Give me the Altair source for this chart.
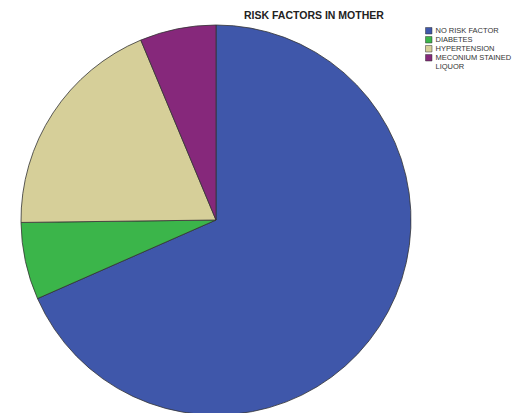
import altair as alt
import pandas as pd

categories = ["NO RISK FACTOR", "DIABETES", "HYPERTENSION", "MECONIUM STAINED LIQUOR"]
values = [68.4, 6.4, 18.9, 6.3]
colors = ["#3f57aa", "#3bb54a", "#d6cf99", "#86287b"]

df = pd.DataFrame({"factor": categories, "value": values, "idx": list(range(len(categories)))})

pie = alt.Chart(df).mark_arc(
    stroke="#333333", strokeWidth=0.8, radius=195
).encode(
    theta=alt.Theta("value:Q", stack=True),
    order=alt.Order("idx:Q"),
    x=alt.value(216),
    y=alt.value(220),
    color=alt.Color(
        "factor:N",
        sort=categories,
        scale=alt.Scale(domain=categories, range=colors),
        legend=alt.Legend(
            title=None,
            orient="none",
            legendX=425,
            legendY=27,
            symbolType="square",
            symbolSize=42,
            symbolStrokeColor="#333333",
            symbolStrokeWidth=0.5,
            labelFont="Liberation Sans",
            labelFontSize=7.5,
            labelColor="#333333",
            rowPadding=0,
            labelOffset=3,
            labelLimit=120,
            labelExpr="datum.label == 'MECONIUM STAINED LIQUOR' ? ['MECONIUM STAINED', 'LIQUOR'] : datum.label",
        ),
    ),
)

chart = pie.properties(
    width=524,
    height=413,
    autosize=alt.AutoSizeParams(type="none"),
    padding=0,
    title=alt.TitleParams(
        "RISK FACTORS IN MOTHER",
        font="Liberation Sans",
        fontSize=10.5,
        fontWeight="bold",
        color="#222222",
        anchor="start",
        dx=244,
        offset=-21,
    ),
).configure_view(stroke=None)

chart.save("out.html", embed_options={"renderer": "svg", "actions": False})
